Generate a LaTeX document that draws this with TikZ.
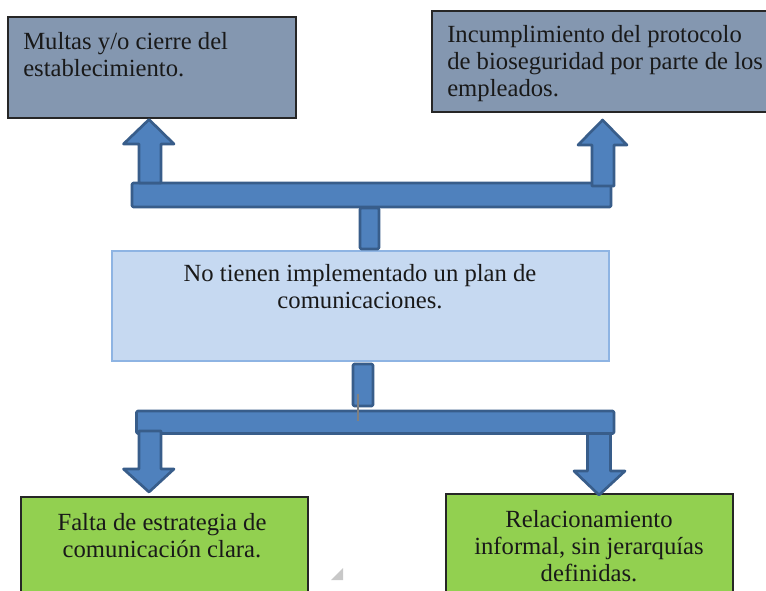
\documentclass[tikz,border=0pt]{standalone}
\usepackage{fontspec}
\setmainfont{Liberation Serif}
\usetikzlibrary{fit}
\definecolor{topfill}{HTML}{8497B0}
\definecolor{boxline}{HTML}{262626}
\definecolor{midfill}{HTML}{C6D9F1}
\definecolor{midline}{HTML}{8EB4E3}
\definecolor{greenfill}{HTML}{92D050}
\definecolor{arrowfill}{HTML}{4F81BD}
\definecolor{arrowline}{HTML}{385D8A}
\definecolor{gripgray}{HTML}{C8C8C8}
\begin{document}
\begin{tikzpicture}[x=0.75pt,y=-0.75pt,
  effbox/.style={draw=boxline, line width=1.1pt, fill=topfill, inner sep=0pt},
  midbox/.style={draw=midline, line width=0.8pt, fill=midfill, inner sep=0pt},
  causebox/.style={draw=boxline, line width=1.1pt, fill=greenfill, inner sep=0pt},
  lbl/.style={font=\fontsize{18.5}{20}\selectfont, inner sep=0pt, text=black!90},
  blockshape/.style={draw=arrowline, fill=arrowfill, line width=2pt, line join=round}]
\useasboundingbox (0,0) rectangle (766,590);
\fill[white] (0,0) rectangle (766,590);

% boxes
\node[effbox, fit={(8,17) (296,118)}] (e1) {};
\node[effbox, fit={(432,11) (768,112)}] (e2) {};
\node[midbox, fit={(112,251) (609,361)}] (mid) {};
\node[causebox, fit={(21,497) (308,593)}] (c1) {};
\node[causebox, fit={(446,494) (733,593)}] (c2) {};

% texts (base anchor = baseline of last line)
\node[lbl, anchor=base west, align=left] (t1) at (23,76) {Multas y/o cierre del\\establecimiento.};
\node[lbl, anchor=base west, align=left] (t2) at (447,96) {Incumplimiento del protocolo\\de bioseguridad por parte de los\\empleados.};
\node[lbl, anchor=base, align=center] (t3) at (360,308) {No tienen implementado un plan de\\comunicaciones.};
\node[lbl, anchor=base, align=center] (t4) at (162,557) {Falta de estrategia de\\comunicación clara.};
\node[lbl, anchor=base, align=center] (t5) at (589,581) {Relacionamiento\\informal, sin jerarquías\\definidas.};

% upper block connector
\draw[blockshape, rounded corners=1pt] (132,183) rectangle (611,207);
\draw[blockshape, rounded corners=1pt] (360,208) rectangle (379,249);
\draw[blockshape] (139,183) -- (139,144) -- (123.5,144) -- (149,119.5) -- (174,144) -- (161,144) -- (161,183) -- cycle;
\draw[blockshape] (592,186) -- (592,145) -- (578,145) -- (602.6,120) -- (627,145) -- (614,145) -- (614,186) -- cycle;

% lower block connector
\draw[blockshape, rounded corners=1pt] (353,364) rectangle (373,406);
\draw[blockshape, rounded corners=1pt] (136.5,411) rectangle (614,433.5);
\draw[blockshape] (139,431) -- (139,469) -- (123.5,469) -- (149,492) -- (174,469) -- (161,469) -- (161,431) -- cycle;
\draw[blockshape] (587.5,433.5) -- (587.5,471) -- (574,471) -- (599,495) -- (625,471) -- (610.5,471) -- (610.5,433.5) -- cycle;
\draw[gray, line width=0.8pt] (358,394) -- (358,421);

% resize grip
\fill[gripgray] (343,568) -- (343,580) -- (331,580) -- cycle;
\end{tikzpicture}
\end{document}
